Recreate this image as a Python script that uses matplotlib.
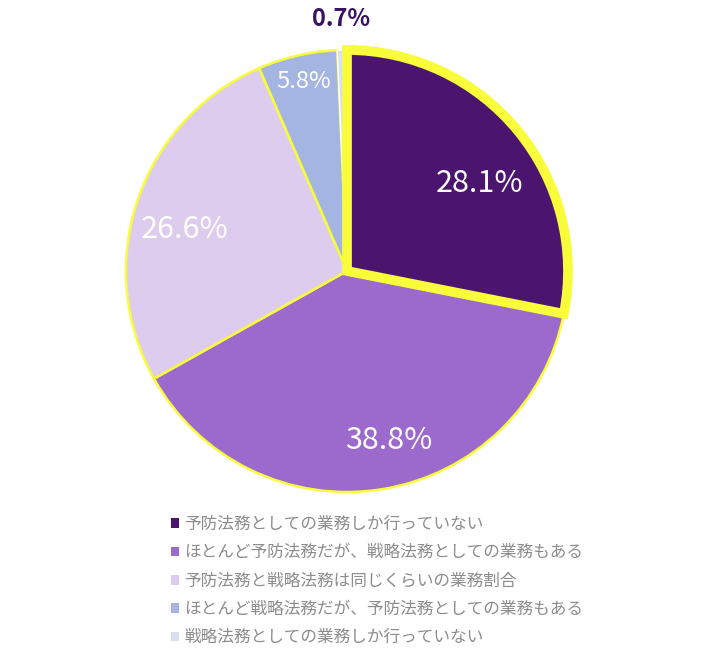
import matplotlib
matplotlib.use("Agg")
import matplotlib.pyplot as plt
from matplotlib.patches import Patch
import numpy as np

categories = [
    "予防法務としての業務しか行っていない",
    "ほとんど予防法務だが、戦略法務としての業務もある",
    "予防法務と戦略法務は同じくらいの業務割合",
    "ほとんど戦略法務だが、予防法務としての業務もある",
    "戦略法務としての業務しか行っていない",
]
values = [28.1, 38.8, 26.6, 5.8, 0.7]
value_labels = ["28.1%", "38.8%", "26.6%", "5.8%", "0.7%"]

colors = ["#4B146F", "#9C6ACD", "#DDCCEE", "#A3B5E0", "#D7E0F3"]
edge_colors = ["#F8FC3A", "#F8FC3A", "#F8FC3A", "#F8FC3A", "#FFFFFF"]
edge_widths = [7.0, 1.8, 1.8, 1.8, 1.0]
label_colors = ["white", "white", "white", "white", "#3A1160"]
label_dist = [0.72, 0.79, 0.76, 0.88, 1.14]
label_angle_adj = [-6, 5, 4.5, 0, 0]
label_sizes = [22, 22, 22, 17, 17]
label_weights = ["normal", "normal", "normal", "normal", "bold"]

plt.rcParams['font.family'] = ['Noto Sans CJK JP', 'DejaVu Sans']

W, H = 710, 662
fig = plt.figure(figsize=(W / 100, H / 100), dpi=100)
ax = fig.add_axes([0, 0, 1, 1])

cx, cy, r = 347, H - 271, 221
wedges, _ = ax.pie(values, colors=colors, startangle=90, counterclock=False,
                   center=(cx, cy), radius=r, frame=True)
ax.set_xlim(0, W)
ax.set_ylim(0, H)
ax.set_aspect('equal')
ax.axis('off')
for i, w in enumerate(wedges):
    w.set_edgecolor(edge_colors[i])
    w.set_linewidth(edge_widths[i])
    w.set_joinstyle('miter')
wedges[0].set_zorder(3)

for i, w in enumerate(wedges):
    mid = np.deg2rad((w.theta1 + w.theta2) / 2 + label_angle_adj[i])
    x = cx + r * label_dist[i] * np.cos(mid)
    y = cy + r * label_dist[i] * np.sin(mid)
    ax.text(x, y, value_labels[i], ha='center', va='center',
            color=label_colors[i], fontsize=label_sizes[i],
            fontweight=label_weights[i], zorder=5)

handles = [Patch(facecolor=c, edgecolor='none') for c in colors]
leg = fig.legend(handles, categories, loc='upper left',
                 bbox_to_anchor=(171 / W, 1 - 516 / H), frameon=False,
                 handlelength=0.5, handleheight=0.5, handletextpad=0.3,
                 labelspacing=0.68, fontsize=12, borderaxespad=0, borderpad=0)
for t in leg.get_texts():
    t.set_color('#8C8C8C')

fig.savefig("out.png", dpi=100)
